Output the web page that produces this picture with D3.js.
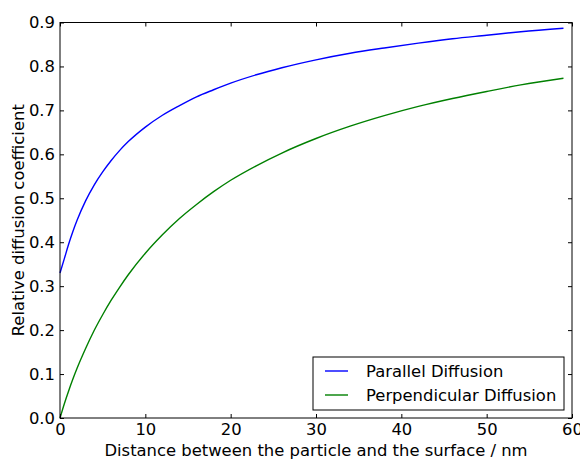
<!DOCTYPE html>
<html>
<head>
<meta charset="utf-8">
<script src="https://cdn.jsdelivr.net/npm/d3@7"></script>
<style>
  html, body { margin: 0; padding: 0; background: #fff; }
  svg { display: block; }
  text { font-family: "DejaVu Sans", sans-serif; fill: #000; }
</style>
</head>
<body>
<svg id="chart" width="580" height="460"></svg>
<script>
// ---- data ----
const distance = [0, 0.5, 1, 1.5, 2, 3, 4, 5, 6, 7, 8, 10, 12, 14, 16, 18, 20, 23, 26, 30, 34, 38, 42, 46, 50, 54, 59];
const parallel = [0.330, 0.362, 0.395, 0.424, 0.450, 0.494, 0.530, 0.560, 0.586, 0.609, 0.629, 0.662, 0.689, 0.711, 0.731, 0.747, 0.762, 0.781, 0.797, 0.815, 0.830, 0.842, 0.853, 0.863, 0.871, 0.879, 0.887];
const perpendicular = [0.000, 0.032, 0.061, 0.088, 0.113, 0.158, 0.199, 0.235, 0.268, 0.298, 0.326, 0.375, 0.417, 0.454, 0.486, 0.515, 0.541, 0.574, 0.603, 0.636, 0.664, 0.688, 0.709, 0.727, 0.743, 0.758, 0.773];
const xTicks = [0, 10, 20, 30, 40, 50, 60];
const yTicks = [0.0, 0.1, 0.2, 0.3, 0.4, 0.5, 0.6, 0.7, 0.8, 0.9];
const seriesNames = ["Parallel Diffusion", "Perpendicular Diffusion"];
const xTitle = "Distance between the particle and the surface / nm";
const yTitle = "Relative diffusion coefficient";

// ---- layout ----
const svg = d3.select("#chart");
const L = 60, R = 572, T = 22.5, B = 418;
const colors = ["#0000ff", "#008000"];
const fontSize = 16.4;

const x = d3.scaleLinear().domain([0, 60]).range([L, R]);
const y = d3.scaleLinear().domain([0, 0.9]).range([B, T]);

// lines
const series = [parallel, perpendicular];
const line = d3.line()
  .x((d, i) => x(distance[i]))
  .y(d => y(d))
  .curve(d3.curveMonotoneX);

svg.append("g").selectAll("path")
  .data(series)
  .join("path")
  .attr("d", d => line(d))
  .attr("fill", "none")
  .attr("stroke", (d, i) => colors[i])
  .attr("stroke-width", 1.4);

// axes (ticks inward on all four sides)
const tickLen = 4;
const fmtY = d3.format(".1f");
const axB = d3.axisBottom(x).tickValues(xTicks).tickSizeInner(-tickLen).tickSizeOuter(0).tickPadding(5).tickFormat(d3.format("d"));
const axT = d3.axisTop(x).tickValues(xTicks).tickSizeInner(-tickLen).tickSizeOuter(0).tickFormat("");
const axLft = d3.axisLeft(y).tickValues(yTicks).tickSizeInner(-tickLen).tickSizeOuter(0).tickPadding(5).tickFormat(fmtY);
const axRgt = d3.axisRight(y).tickValues(yTicks).tickSizeInner(-tickLen).tickSizeOuter(0).tickFormat("");

function styleAxis(g) {
  g.select(".domain").remove();
  g.selectAll(".tick line").attr("stroke", "#000").attr("stroke-width", 1);
  g.selectAll("text").attr("font-size", fontSize).attr("font-family", "DejaVu Sans").attr("fill", "#000");
}
svg.append("g").attr("transform", `translate(0,${B})`).call(axB).call(styleAxis);
svg.append("g").attr("transform", `translate(0,${T})`).call(axT).call(styleAxis);
svg.append("g").attr("transform", `translate(${L},0)`).call(axLft).call(styleAxis);
svg.append("g").attr("transform", `translate(${R},0)`).call(axRgt).call(styleAxis);

// frame
svg.append("rect")
  .attr("x", L).attr("y", T)
  .attr("width", R - L).attr("height", B - T)
  .attr("fill", "none").attr("stroke", "#000").attr("stroke-width", 1);

// axis titles
svg.append("text")
  .attr("x", (L + R) / 2).attr("y", 456)
  .attr("text-anchor", "middle")
  .attr("font-size", fontSize)
  .text(xTitle);

svg.append("text")
  .attr("transform", `translate(24,${(T + B) / 2}) rotate(-90)`)
  .attr("text-anchor", "middle")
  .attr("font-size", fontSize)
  .text(yTitle);

// legend
const lg = svg.append("g");
lg.append("rect")
  .attr("x", 313).attr("y", 357)
  .attr("width", 251).attr("height", 53)
  .attr("fill", "#fff").attr("stroke", "#000").attr("stroke-width", 1);
const rowsY = [371, 395];
seriesNames.forEach((name, i) => {
  lg.append("line")
    .attr("x1", 325).attr("x2", 348)
    .attr("y1", rowsY[i]).attr("y2", rowsY[i])
    .attr("stroke", colors[i]).attr("stroke-width", 1.4);
  lg.append("text")
    .attr("x", 366).attr("y", rowsY[i])
    .attr("dy", "0.35em")
    .attr("font-size", fontSize)
    .text(name);
});
</script>
</body>
</html>
